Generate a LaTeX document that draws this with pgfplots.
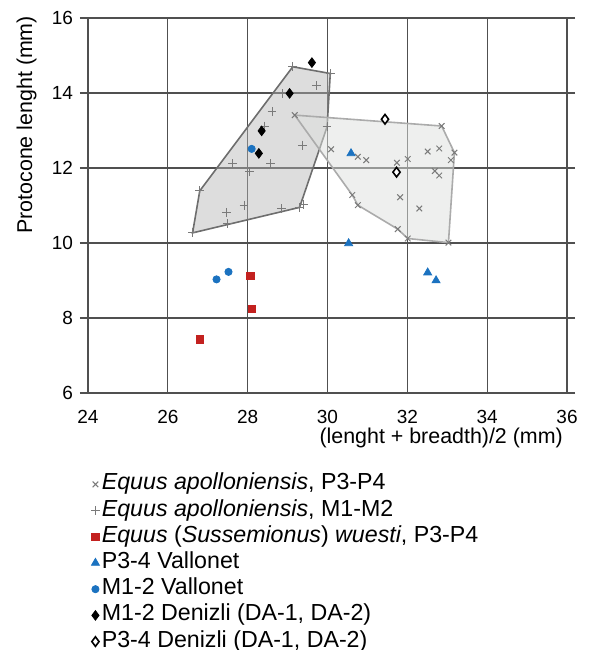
\documentclass[border=0pt]{standalone}
\usepackage{fontspec}
\setmainfont{Liberation Sans}
\usepackage{pgfplots}
\pgfplotsset{compat=1.18}
\definecolor{gridc}{HTML}{505050}
\definecolor{mkgray}{HTML}{7A7A7A}
\definecolor{wred}{HTML}{C3211F}
\definecolor{vblue}{HTML}{1B72C0}
\definecolor{hullA}{HTML}{B4B4B4}
\definecolor{hullAline}{HTML}{6E6E6E}
\definecolor{hullB}{HTML}{DDE0DD}
\definecolor{hullBline}{HTML}{ABABAB}
\begin{document}
\begin{tikzpicture}
  \begin{axis}[
    scale only axis,
    width=239.5pt,
    height=187.5pt,
    xmin=24, xmax=36,
    ymin=6, ymax=16,
    xtick={24,26,...,36},
    ytick={6,8,...,16},
    grid=major,
    grid style={color=gridc, line width=0.65pt},
    axis line style={color=gridc, line width=0.65pt},
    tick align=outside,
    xtick style={draw=none},
    ytick style={color=gridc, line width=0.65pt},
    major tick length=4pt,
    tick label style={font=\fontsize{9.5}{11}\selectfont},
    /pgf/number format/assume math mode=true,
    xticklabel style={yshift=-1pt},
    label style={font=\fontsize{10.7}{12}\selectfont},
    xlabel={(lenght + breadth)/2 (mm)},
    xlabel style={at={(axis description cs:0.992,-0.12)}, anchor=east, inner sep=0pt},
    ylabel={Protocone lenght (mm)},
    ylabel style={at={(axis description cs:-0.128,0.715)}, anchor=center},
    legend cell align=left,
    legend style={at={(axis description cs:-0.007,-0.197)}, anchor=north west,
      draw=none, fill=none, font=\fontsize{11.6}{13}\selectfont, row sep=0pt,
      nodes={inner sep=1pt, text height=8.3pt, text depth=2.8pt}},
    legend image code/.code={\draw[mark repeat=2,mark phase=2,#1] plot coordinates {(0pt,0pt)(4pt,0pt)(8pt,0pt)};},
  ]
  % convex hulls
  \addplot[forget plot, fill=hullA, fill opacity=0.45, draw=hullAline, line width=0.8pt]
    coordinates {(26.62,10.27)(26.80,11.39)(29.13,14.70)(30.07,14.52)(29.99,13.10)(29.30,10.95)} -- cycle;
  \addplot[forget plot, fill=hullB, fill opacity=0.5, draw=hullBline, line width=0.8pt]
    coordinates {(29.18,13.41)(32.86,13.12)(33.18,12.41)(33.03,10.01)(32.01,10.12)(31.76,10.37)(30.76,11.01)(30.62,11.28)} -- cycle;

  \addplot[only marks, mark=x, mark size=2pt, mkgray, line width=0.5pt] coordinates {
    (29.18,13.41)(32.86,13.12)(33.18,12.41)(33.09,12.21)(33.03,10.01)
    (32.01,10.12)(31.76,10.37)(30.76,11.01)(30.62,11.28)(30.09,12.50)
    (30.76,12.30)(30.97,12.21)(31.74,12.14)(32.01,12.24)(32.51,12.44)
    (32.80,12.52)(32.69,11.92)(32.80,11.80)(31.82,11.22)(32.30,10.92)};
  \addlegendentry{\textit{Equus apolloniensis}, P3-P4}

  \addplot[only marks, mark=+, mark size=2.2pt, mkgray, line width=0.5pt] coordinates {
    (26.62,10.27)(26.80,11.39)(29.13,14.70)(30.07,14.52)(29.72,14.19)
    (28.88,13.99)(28.61,13.50)(28.43,13.12)(29.99,13.10)(29.37,12.61)
    (27.62,12.12)(28.57,12.12)(28.05,11.90)(27.91,11.01)(27.47,10.82)
    (28.85,10.92)(29.30,10.95)(29.40,11.02)(27.49,10.52)};
  \addlegendentry{\textit{Equus apolloniensis}, M1-M2}

  \addplot[only marks, mark=square*, mark size=1.8pt, wred, mark options={fill=wred}] coordinates {
    (28.07,9.13)(28.11,8.24)(26.80,7.43)};
  \addlegendentry{\textit{Equus} (\textit{Sussemionus}) \textit{wuesti}, P3-P4}

  \addplot[only marks, mark=triangle*, mark size=2.3pt, vblue, mark options={fill=vblue}] coordinates {
    (30.59,12.39)(30.53,9.99)(32.51,9.21)(32.72,9.00)};
  \addlegendentry{P3-4 Vallonet}

  \addplot[only marks, mark=*, mark size=1.8pt, vblue, mark options={fill=vblue}] coordinates {
    (28.10,12.51)(27.22,9.03)(27.52,9.23)};
  \addlegendentry{M1-2 Vallonet}

  \addplot[only marks, mark=diamond*, mark size=2.4pt, black, mark options={fill=black}] coordinates {
    (29.61,14.81)(29.05,13.99)(28.35,12.99)(28.28,12.39)};
  \addlegendentry{M1-2 Denizli (DA-1, DA-2)}

  \addplot[only marks, mark=diamond*, mark size=2.4pt, black, mark options={fill=white, line width=0.8pt}] coordinates {
    (31.44,13.30)(31.73,11.89)};
  \addlegendentry{P3-4 Denizli (DA-1, DA-2)}

  \coordinate (bl) at (axis description cs:-0.1837,-0.6853);
  \coordinate (tr) at (axis description cs:1.0501,1.048);
  \end{axis}
  \pgfresetboundingbox
  \path[use as bounding box] (bl) rectangle (tr);
\end{tikzpicture}
\end{document}
